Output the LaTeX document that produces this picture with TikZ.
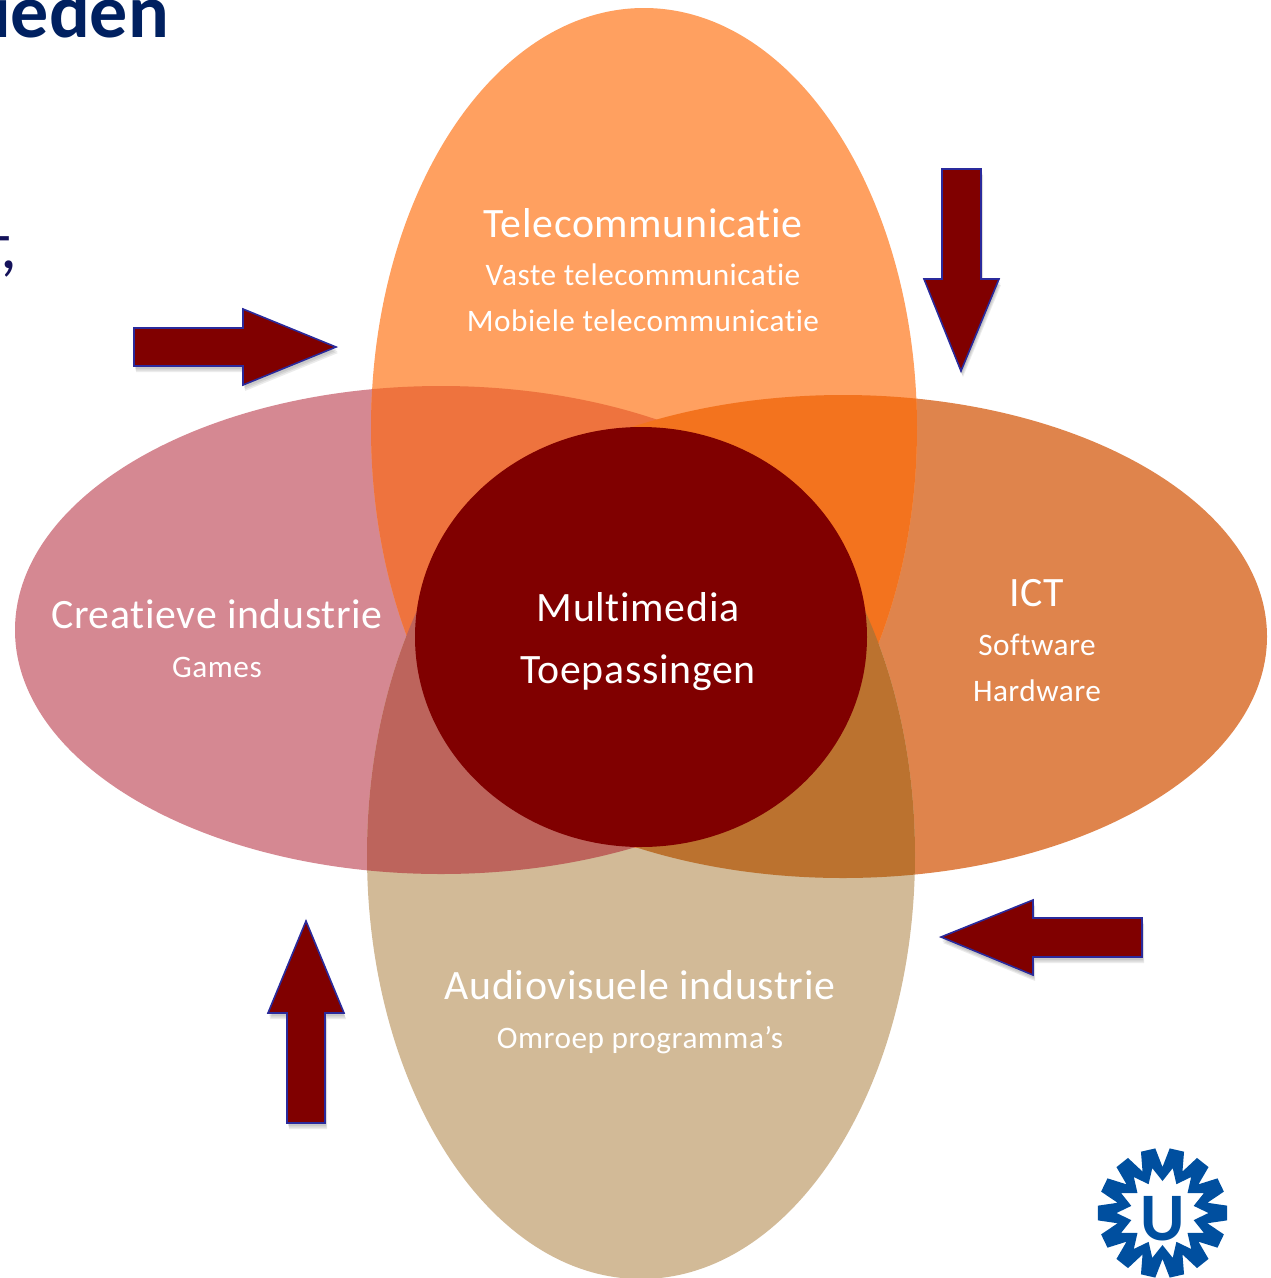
\documentclass[tikz,border=0pt]{standalone}
\usepackage{fontspec}
\setmainfont{Carlito}[LetterSpace=1.6,Ligatures=NoCommon]
\newfontfamily\plainfont{Carlito}
\usetikzlibrary{calc}
\definecolor{topc}{HTML}{FFA060}
\definecolor{leftc}{HTML}{D58892}
\definecolor{rightc}{HTML}{DF844C}
\definecolor{botc}{HTML}{D2BA97}
\definecolor{tl}{HTML}{EE733E}
\definecolor{tr}{HTML}{F3731E}
\definecolor{bl}{HTML}{BD645C}
\definecolor{br}{HTML}{BB722F}
\definecolor{core}{HTML}{800000}
\definecolor{edge}{HTML}{2A2A9C}
\definecolor{uu}{HTML}{004F9F}
\definecolor{headc}{HTML}{002060}
\definecolor{fragc}{HTML}{14125A}
\tikzset{
  big/.style={text=white,anchor=base,inner sep=0pt,font=\fontsize{41.8}{42}\selectfont},
  small/.style={text=white,anchor=base,inner sep=0pt,font=\fontsize{31.3}{32}\selectfont},
  fragstyle/.style={anchor=base west,inner sep=0pt,text=fragc,font=\plainfont\fontsize{68}{68}\selectfont},
  arrowbox/.style={fill=core,draw=edge,line width=1.6pt,line join=miter},
  shade/.style={fill=black,opacity=0.08,draw=none}
}
\newcommand{\ET}{(644,428) ellipse [x radius=273,y radius=420]}
\newcommand{\EB}{(641,855) ellipse [x radius=274,y radius=424]}
\newcommand{\EL}{(441,630) ellipse [x radius=426,y radius=244]}
\newcommand{\ER}{(843,636.5) ellipse [x radius=424,y radius=241.5]}
\newcommand{\blockarrow}[1]{%
  \foreach \s/\t in {2/6,1.5/4.5,1/3}{\fill[shade,shift={(\s,\t)}] #1 -- cycle;}
  \draw[arrowbox] #1 -- cycle;}
\begin{document}
\begin{tikzpicture}[x=1pt,y=-1pt]
\useasboundingbox (0,0) rectangle (1270,1278);
\clip (0,0) rectangle (1270,1278);
% ellipses
\fill[leftc] \EL;
\fill[rightc] \ER;
\fill[botc] \EB;
\fill[topc] \ET;
\begin{scope}\clip \ET; \fill[tl] \EL; \fill[tr] \ER; \end{scope}
\begin{scope}\clip \EB; \fill[bl] \EL; \fill[br] \ER; \end{scope}
\fill[core] (641,637) ellipse [x radius=226,y radius=210];
% heading fragments
\node[anchor=base west,inner sep=0pt,text=headc,font=\plainfont\fontsize{76}{76}\bfseries\selectfont] (head) at (-8,37) {ieden};
\begin{scope}
\clip (0,200) rectangle (30,245);
\node[fragstyle] (fragt) at (-12,268) {t};
\end{scope}
\node[fragstyle] (fragc) at (0,268) {,};
% arrows
\blockarrow{(134,328) -- (243,328) -- (243,309) -- (336,347) -- (243,385) -- (243,366) -- (134,366)}
\blockarrow{(942,169) -- (981,169) -- (981,279) -- (999,279) -- (961,371) -- (924,279) -- (942,279)}
\blockarrow{(1142,918) -- (1033,918) -- (1033,900) -- (941,937) -- (1033,975) -- (1033,957) -- (1142,957)}
\blockarrow{(287,1123) -- (325,1123) -- (325,1013) -- (344,1013) -- (306,921) -- (268,1013) -- (287,1013)}
% labels
\node[big] (tele) at (643,237) {Telecommunicatie};
\node[small] (vaste) at (643,285) {Vaste telecommunicatie};
\node[small] (mob) at (643,331) {Mobiele telecommunicatie};
\node[big] (crea) at (217,628) {Creatieve industrie};
\node[small] (games) at (217,677) {Games};
\node[big] (multi) at (638,621) {Multimedia};
\node[big] (toep) at (638,683) {Toepassingen};
\node[big] (ict) at (1037,606) {ICT};
\node[small] (soft) at (1037,655) {Software};
\node[small] (hard) at (1037,701) {Hardware};
\node[big] (audio) at (640,999) {Audiovisuele industrie};
\node[small] (omroep) at (640,1048) {Omroep programma’s};
% logo
\begin{scope}[shift={(1162.5,1213)}]
\fill[uu,even odd rule]
  (-90+12.857-6.5:65)
  \foreach \a in {0,25.714,...,340}{
    -- ({\a-90+12.857-6.5}:65) -- ({\a-90+12.857+6.5}:65) -- ({\a-90+25.714}:46)
  } -- cycle
  (-90+12.857:46)
  \foreach \a in {0,25.714,...,340}{
    -- ({\a-90+12.857}:46) -- ({\a-90+25.714}:32)
  } -- cycle;
\node[text=uu,inner sep=0pt,font=\plainfont\fontsize{68}{68}\bfseries\selectfont] (u) at (0,6) {U};
\end{scope}
\end{tikzpicture}
\end{document}
